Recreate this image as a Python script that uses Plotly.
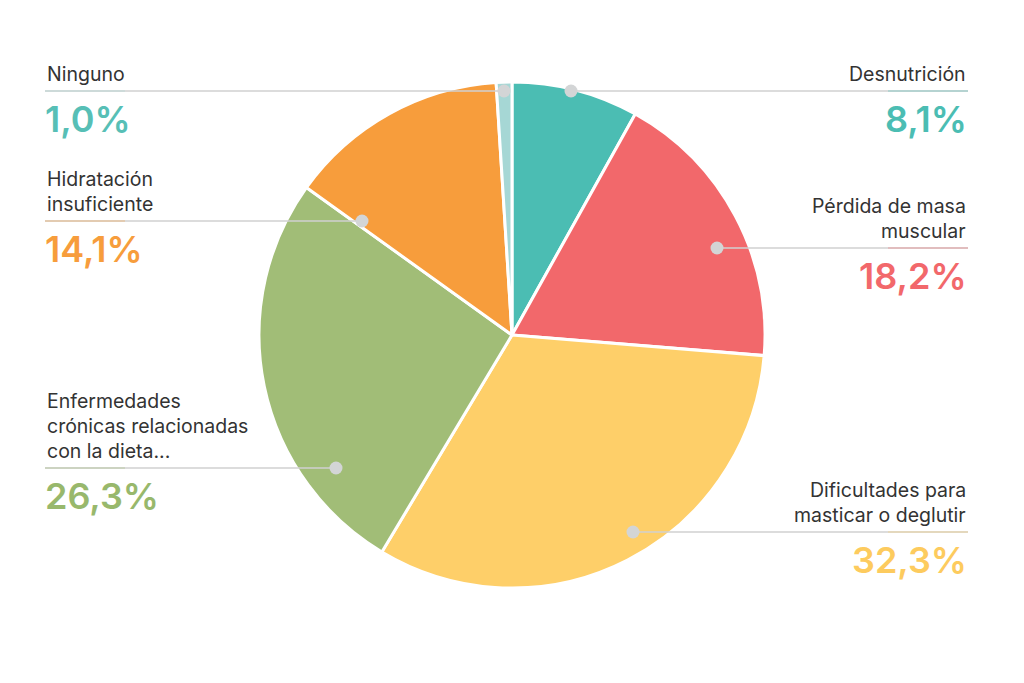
import plotly.graph_objects as go

# #0. Data
categories = ['Desnutrición', 'Pérdida de masa<br>muscular', 'Dificultades para<br>masticar o deglutir',
              'Enfermedades<br>crónicas relacionadas<br>con la dieta...', 'Hidratación<br>insuficiente', 'Ninguno']
values = [8.1, 18.2, 32.3, 26.3, 14.1, 1.0]
pct_labels = ['8,1%', '18,2%', '32,3%', '26,3%', '14,1%', '1,0%']

slice_colors = ['#4BBDB3', '#F2686B', '#FECF69', '#A1BD77', '#F79D3C', '#A6D7D5']
text_colors = ['#4BBDB3', '#F2686B', '#FDCB5E', '#98B86C', '#F79D3C', '#57BFB6']

# #1. Layout settings (pixels of the 1024x683 page)
W, H = 1024, 683
off = 8  # the page body adds an 8px margin, so pull everything back by that
cx, cy, R = 512 - off, 335 - off, 253
left_x, right_x = 45 - off, 968 - off

# leader line y, dot x, side of the label column
leaders = [
    (91, 571, 'right'),
    (248, 717, 'right'),
    (532, 633, 'right'),
    (468, 336, 'left'),
    (221, 362, 'left'),
    (91, 504, 'left'),
]


def px(x):
    return x / W


def py(y):
    return 1 - y / H


fig = go.Figure()

fig.add_trace(go.Pie(
    labels=categories,
    values=values,
    sort=False,
    direction='clockwise',
    rotation=0,
    marker=dict(colors=slice_colors, line=dict(color='white', width=3)),
    textinfo='none',
    hoverinfo='label+percent',
    domain=dict(x=[px(cx - R), px(cx + R)], y=[py(cy + R), py(cy - R)]),
    showlegend=False,
))

shapes = []
annotations = []
for name, pct, tcol, scol, (ly, dx, side) in zip(categories, pct_labels, text_colors, slice_colors, leaders):
    ly, dx = ly - off, dx - off
    end_x = left_x if side == 'left' else right_x
    # grey leader line
    shapes.append(dict(type='line', xref='paper', yref='paper',
                       x0=px(end_x), x1=px(dx), y0=py(ly), y1=py(ly),
                       line=dict(color='#D0D0D0', width=1.5), layer='above'))
    # faint coloured tint near the label
    tint_x = end_x + 80 if side == 'left' else end_x - 80
    shapes.append(dict(type='line', xref='paper', yref='paper',
                       x0=px(end_x), x1=px(tint_x), y0=py(ly), y1=py(ly),
                       line=dict(color=scol, width=1.5), opacity=0.35, layer='above'))
    # dot inside the slice
    shapes.append(dict(type='circle', xref='paper', yref='paper',
                       x0=px(dx - 6.5), x1=px(dx + 6.5), y0=py(ly + 6.5), y1=py(ly - 6.5),
                       fillcolor='#D3D5D6', line=dict(width=0), layer='above'))

    xanchor = 'left' if side == 'left' else 'right'
    lines = name.split('<br>')
    for i, txt in enumerate(lines):
        yy = ly - 17 - 25 * (len(lines) - 1 - i)
        annotations.append(dict(xref='paper', yref='paper', x=px(end_x), y=py(yy),
                                text=txt, showarrow=False, xanchor=xanchor, yanchor='middle',
                                font=dict(family='Inter', size=19.5, color='#333333')))
    annotations.append(dict(xref='paper', yref='paper', x=px(end_x - 2 if side == 'left' else end_x + 1),
                            y=py(ly + 28), text=pct, showarrow=False, xanchor=xanchor, yanchor='middle',
                            font=dict(family='Inter', size=36, color=tcol, weight=600)))

fig.update_layout(
    width=W,
    height=H,
    margin=dict(l=0, r=0, t=0, b=0),
    paper_bgcolor='white',
    plot_bgcolor='white',
    shapes=shapes,
    annotations=annotations,
)

fig.write_html("out.html")
